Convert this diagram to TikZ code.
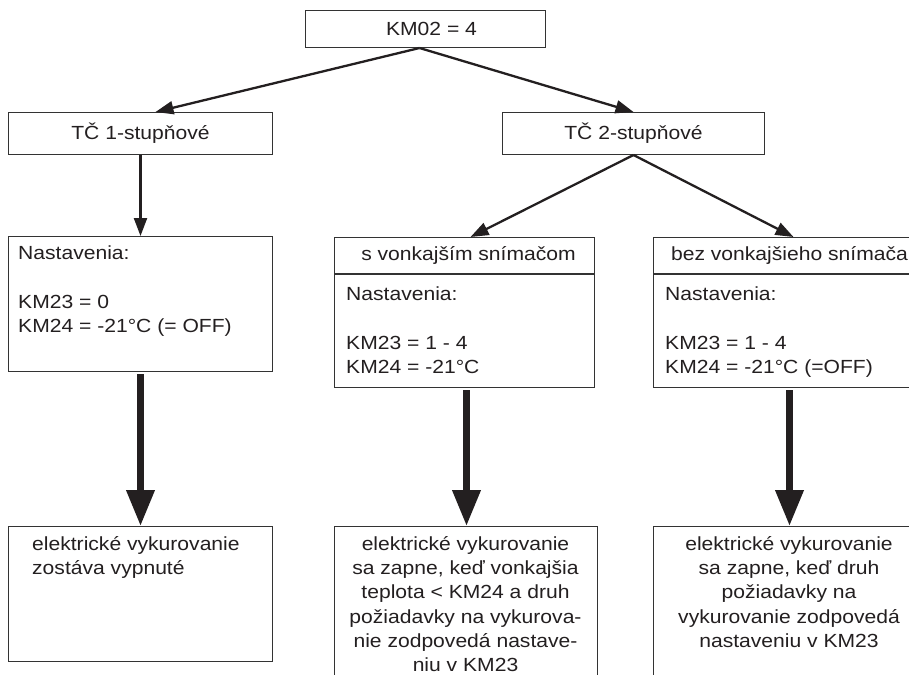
\documentclass[tikz,border=0pt]{standalone}
\usepackage{fontspec}
\setmainfont{Liberation Sans}[FakeStretch=1.11]
\usetikzlibrary{arrows.meta}
\definecolor{ink}{HTML}{231F20}
\definecolor{frame}{HTML}{333333}
\begin{document}
\begin{tikzpicture}[x=1pt,y=-1pt,
  every node/.style={font=\fontsize{19}{24.3}\selectfont, text=ink},
  box/.style={draw=frame, line width=1pt, anchor=north west, inner sep=0pt},
  txt/.style={anchor=north west, inner sep=0pt, align=left},
  ctxt/.style={anchor=north, inner sep=0pt, align=center},
  thinarrow/.style={draw=ink, line width=2.3pt, -{Triangle[length=18pt,width=13pt]}},
  thickarrow/.style={draw=ink, line width=7pt, -{Triangle[length=36pt,width=27pt]}},
  divider/.style={draw=frame, line width=2pt}]
\useasboundingbox (0,0) rectangle (909,674);
\clip (0,0) rectangle (909,674);
\fill[white] (0,0) rectangle (909,674);

\node[box, minimum width=240pt, minimum height=37pt] (top) at (305,10) {\hspace{12pt}KM02 = 4};
\node[box, minimum width=264pt, minimum height=42pt] (tc1) at (8,112) {TČ 1-stupňové};
\node[box, minimum width=262pt, minimum height=42pt] (tc2) at (502,112) {TČ 2-stupňové};

\node[box, minimum width=264pt, minimum height=135pt] (s1) at (8,236) {};
\node[txt] (s1t) at (18,246) {Nastavenia:\\~\\KM23 = 0\\KM24 = -21°C (= OFF)};

\node[box, minimum width=260pt, minimum height=36pt] (m1h) at (334,237) {\hspace{8pt}s vonkajším snímačom};
\node[box, minimum width=260pt, minimum height=114pt] (m1) at (334,273) {};
\draw[divider] (m1h.south west) -- (m1h.south east);
\node[txt] (m1t) at (346,287) {Nastavenia:\\~\\KM23 = 1 - 4\\KM24 = -21°C};

\node[box, minimum width=272pt, minimum height=36pt] (r1h) at (653,237) {bez vonkajšieho snímača\hspace{6pt}};
\node[box, minimum width=272pt, minimum height=114pt] (r1) at (653,273) {};
\draw[divider] (r1h.south west) -- (r1h.south east);
\node[txt] (r1t) at (665,287) {Nastavenia:\\~\\KM23 = 1 - 4\\KM24 = -21°C (=OFF)};

\node[box, minimum width=264pt, minimum height=135pt] (b1) at (8,526) {};
\node[txt] (b1t) at (32,536) {elektrické vykurovanie\\zostáva vypnuté};
\node[box, minimum width=263pt, minimum height=200pt] (b2) at (334,526) {};
\node[ctxt] (b2t) at (465.5,536) {elektrické vykurovanie\\sa zapne, keď vonkajšia\\teplota < KM24 a druh\\požiadavky na vykurova-\\nie zodpovedá nastave-\\niu v KM23};
\node[box, minimum width=272pt, minimum height=200pt] (b3) at (653,526) {};
\node[ctxt] (b3t) at (789,536) {elektrické vykurovanie\\sa zapne, keď druh\\požiadavky na\\vykurovanie zodpovedá\\nastaveniu v KM23};

\draw[thinarrow] ([xshift=-6pt]top.south) -- ([xshift=15pt]tc1.north);
\draw[thinarrow] ([xshift=-6pt]top.south) -- (tc2.north);
\draw[thinarrow] (tc1.south) -- (s1.north);
\draw[thinarrow] (tc2.south) -- ([xshift=6pt]m1h.north);
\draw[thinarrow] (tc2.south) -- ([xshift=4pt]r1h.north);
\draw[thickarrow] ([yshift=-2pt]s1.south) -- (b1.north);
\draw[thickarrow] ([xshift=2pt,yshift=-2pt]m1.south) -- ([xshift=2pt]m1.south |- b2.north);
\draw[thickarrow] ([yshift=-2pt]r1.south) -- (b3.north);
\end{tikzpicture}
\end{document}
